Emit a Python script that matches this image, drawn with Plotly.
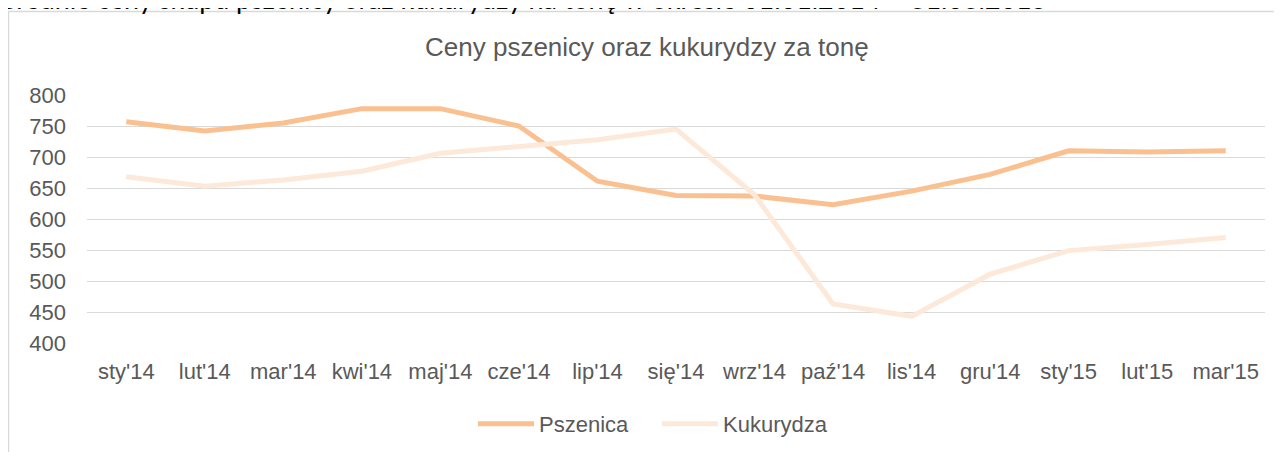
import plotly.graph_objects as go

months = ["sty'14", "lut'14", "mar'14", "kwi'14", "maj'14", "cze'14", "lip'14", "się'14",
          "wrz'14", "paź'14", "lis'14", "gru'14", "sty'15", "lut'15", "mar'15"]
pszenica = [757, 742, 755, 778, 778, 750, 661, 638, 637, 623, 645, 672, 710, 708, 710]
kukurydza = [668, 653, 663, 677, 706, 717, 728, 745, 639, 463, 443, 511, 549, 559, 570]
y_ticks = [400, 450, 500, 550, 600, 650, 700, 750, 800]

OFF = 8  # page body margin
W, H = 1282 - OFF, 452 - OFF
L, T = 87 - OFF, 95 - OFF
R, B = 17, 109
PW, PH = W - L - R, H - T - B


def px(x):
    # x: page pixel
    return (x - OFF - L) / PW


def py(y):
    # y: page pixel
    return 1 + (T - (y - OFF)) / PH


fig = go.Figure()
fig.add_trace(go.Scatter(x=months, y=pszenica, mode="lines", name="Pszenica",
                         line=dict(color="#FAC090", width=5)))
fig.add_trace(go.Scatter(x=months, y=kukurydza, mode="lines", name="Kukurydza",
                         line=dict(color="#FDE9D9", width=5)))

fig.update_layout(
    width=W, height=H,
    margin=dict(l=L, r=R, t=T, b=B, autoexpand=False),
    paper_bgcolor="white", plot_bgcolor="white",
    font=dict(family="Liberation Sans, Arial, sans-serif", color="#595959", size=22),
    showlegend=True,
    legend=dict(orientation="h", x=px(473), xanchor="left", y=py(424), yanchor="middle",
                font=dict(size=22, color="#595959"), itemwidth=56, traceorder="normal",
                entrywidth=113, entrywidthmode="pixels",
                bgcolor="rgba(0,0,0,0)"),
    xaxis=dict(type="category", range=[-0.5, 14.5], showgrid=False, zeroline=False,
               showline=False, ticks="", tickfont=dict(size=22, color="#595959"),
               ticklabelstandoff=13, fixedrange=True),
    yaxis=dict(range=[400, 800], tickvals=y_ticks, showgrid=True, gridcolor="#D9D9D9",
               gridwidth=1.3, zeroline=False, showline=False, ticks="",
               tickfont=dict(size=22, color="#595959"), ticklabelstandoff=20, fixedrange=True),
    shapes=[dict(type="rect", xref="paper", yref="paper",
                 x0=px(8.5), x1=px(1281.5), y0=py(470), y1=py(11.5),
                 line=dict(color="#D9D9D9", width=1.5), fillcolor="rgba(0,0,0,0)", layer="below")],
    annotations=[
        dict(text="Średnie ceny skupu pszenicy oraz kukurydzy na tonę w okresie 01.01.2014 – 31.03.2015",
             xref="paper", yref="paper", x=px(0), y=py(-1), xanchor="left", yanchor="middle",
             showarrow=False, font=dict(family="Lato, Carlito, sans-serif", size=26.9, color="#000000")),
        dict(text="Ceny pszenicy oraz kukurydzy za tonę", xref="paper", yref="paper",
             x=px(647), y=py(47), xanchor="center", yanchor="middle", showarrow=False,
             font=dict(size=26, color="#595959")),
    ],
)

fig.write_html("out.html")
